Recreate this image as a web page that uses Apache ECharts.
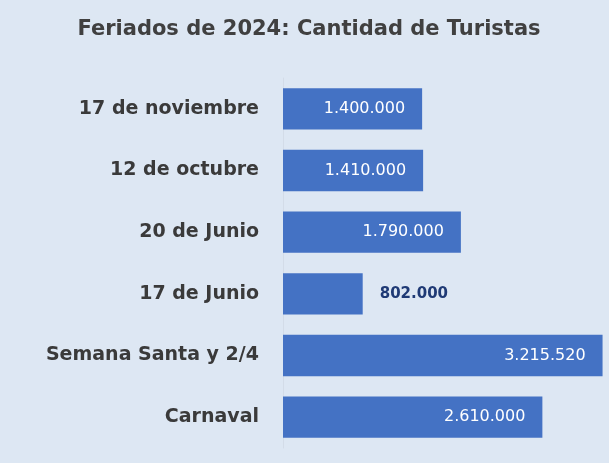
<!DOCTYPE html>
<html><head><meta charset="utf-8">
<script src="https://cdn.jsdelivr.net/npm/echarts@6/dist/echarts.min.js"></script>
<style>html,body{margin:0;padding:0;background:#dde7f3}#c{width:609px;height:463px}</style>
</head><body><div id="c"></div>
<script>
const categories = ["Carnaval", "Semana Santa y 2/4", "17 de Junio", "20 de Junio", "12 de octubre", "17 de noviembre"];
const values = [2610000, 3215520, 802000, 1790000, 1410000, 1400000];
const titleText = "Feriados de 2024: Cantidad de Turistas";

function fmt(v){ return String(v).replace(/\B(?=(\d{3})+(?!\d))/g, "."); }

const data = values.map(function(v){
  if (v < 1000000) {
    return {value: v, label: {position: 'right', distance: 17, color: '#1f3a75', fontWeight: 'bold', fontSize: 15}};
  }
  return v;
});

const chart = echarts.init(document.getElementById('c'), null, {renderer: 'canvas'});
chart.setOption({
  backgroundColor: '#dde7f3',
  animation: false,
  title: {
    text: titleText, left: 304, textAlign: 'center', top: 14,
    textStyle: {fontFamily: 'DejaVu Sans', fontWeight: 'bold', fontSize: 21, color: '#404040'}
  },
  grid: {left: 283, right: 6, top: 78, bottom: 15},
  xAxis: {type: 'value', min: 0, max: 3220000, show: false},
  yAxis: {
    type: 'category', data: categories,
    axisLine: {show: true, lineStyle: {color: '#d3dce8'}},
    axisTick: {show: false},
    axisLabel: {fontFamily: 'DejaVu Sans', fontWeight: 'bold', fontSize: 19, color: '#3a3a3a', margin: 24}
  },
  series: [{
    type: 'bar', data: data, barCategoryGap: '33%',
    itemStyle: {color: '#4472c4'},
    label: {show: true, position: 'insideRight', distance: 17, color: '#ffffff',
      fontFamily: 'DejaVu Sans', fontSize: 16, formatter: function(p){ return fmt(p.value); }}
  }]
});
</script></body></html>
